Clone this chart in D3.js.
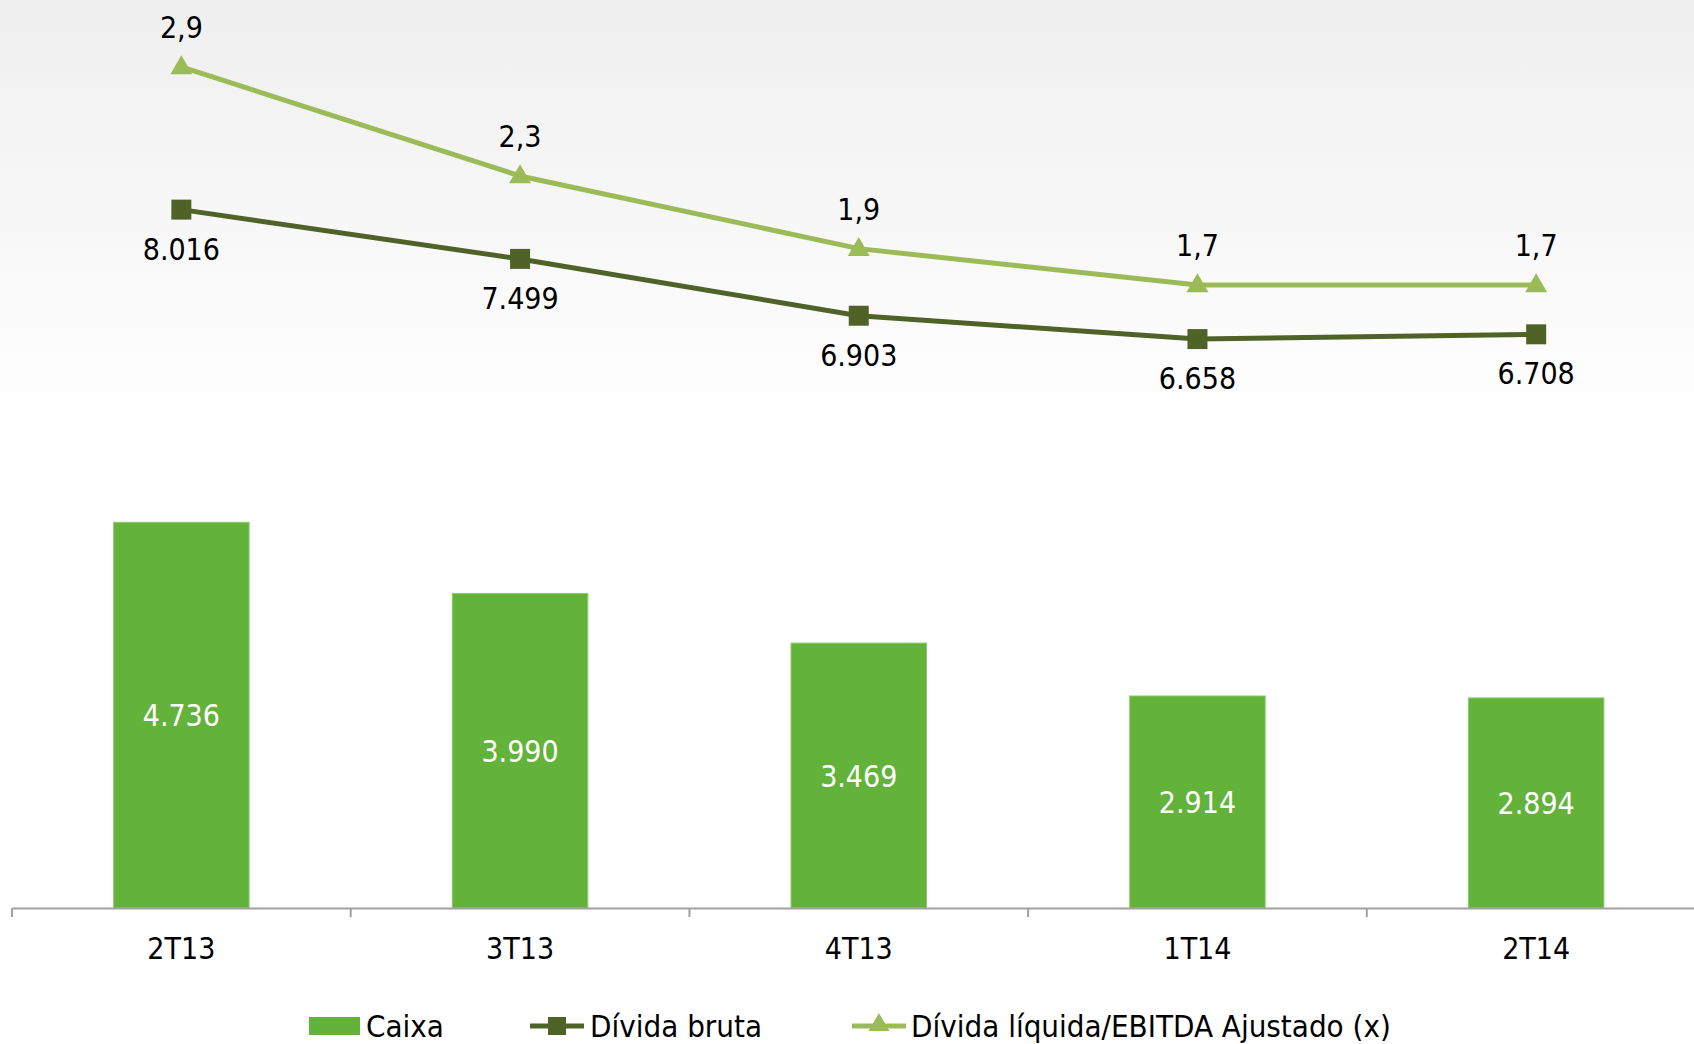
<!DOCTYPE html>
<html>
<head>
<meta charset="utf-8">
<script src="https://cdn.jsdelivr.net/npm/d3@7"></script>
<style>
  html, body { margin: 0; padding: 0; background: #fff; }
  svg { display: block; font-family: "DejaVu Sans Condensed", "DejaVu Sans", sans-serif; }
</style>
</head>
<body>
<svg id="chart"></svg>
<script>
// data
const categories = ["2T13", "3T13", "4T13", "1T14", "2T14"];
const caixa = [4736, 3990, 3469, 2914, 2894];
const dividaBruta = [8016, 7499, 6903, 6658, 6708];
const dividaEbitda = [2.9, 2.3, 1.9, 1.7, 1.7];
const legendNames = ["Caixa", "Dívida bruta", "Dívida líquida/EBITDA Ajustado (x)"];

const width = 1694, height = 1044;
const baseY = 908;

const svg = d3.select("#chart")
    .attr("width", width)
    .attr("height", height);

// soft grey background at the top
const defs = svg.append("defs");
const grad = defs.append("linearGradient")
    .attr("id", "bg")
    .attr("x1", 0).attr("y1", 0).attr("x2", 0).attr("y2", 1);
grad.append("stop").attr("offset", "0%").attr("stop-color", "#efefef");
grad.append("stop").attr("offset", "100%").attr("stop-color", "#ffffff");
svg.append("rect")
    .attr("width", width).attr("height", 430)
    .attr("fill", "url(#bg)");

const xOuter = d3.scaleBand()
    .domain(categories)
    .range([12, 1705.5])
    .padding(0);

const x = d3.scaleBand()
    .domain(categories)
    .range([12, 1705.5])
    .paddingInner(0.6)
    .paddingOuter(0.3);

// primary axis (bars and gross debt), secondary axis (ratio)
const y = d3.scaleLinear()
    .domain([690, 10215])
    .range([baseY, 0]);

const y2 = d3.scaleLinear()
    .domain([-1.729, 3.2685])
    .range([baseY, 0]);

const cx = d => xOuter(d) + xOuter.bandwidth() / 2;

// bars
svg.append("g")
    .selectAll("rect")
    .data(categories)
    .enter()
    .append("rect")
    .attr("x", d => x(d))
    .attr("width", x.bandwidth())
    .attr("y", (d, i) => y(caixa[i]))
    .attr("height", (d, i) => baseY - y(caixa[i]))
    .attr("fill", "#63b33a")
    .attr("stroke", "#8ccb6c")
    .attr("stroke-width", 1);

svg.append("g")
    .selectAll("text")
    .data(categories)
    .enter()
    .append("text")
    .attr("x", d => cx(d))
    .attr("y", (d, i) => (y(caixa[i]) + baseY) / 2 + 11)
    .attr("text-anchor", "middle")
    .attr("font-size", 30)
    .attr("fill", "#fff")
    .text((d, i) => d3.format(",")(caixa[i]).replace(/,/g, "."));

// axis
const axis = svg.append("g")
    .attr("transform", `translate(0,${baseY})`)
    .call(d3.axisBottom(xOuter).tickSize(0).tickSizeOuter(0).tickPadding(0));
axis.select(".domain").attr("stroke", "#a0a0a0").attr("stroke-width", 2);
axis.selectAll(".tick text")
    .attr("font-family", "DejaVu Sans Condensed, DejaVu Sans, sans-serif")
    .attr("font-size", 30)
    .attr("fill", "#000")
    .attr("dy", null)
    .attr("y", 51);

svg.append("g")
    .selectAll("line")
    .data(categories)
    .enter()
    .append("line")
    .attr("x1", d => xOuter(d)).attr("x2", d => xOuter(d))
    .attr("y1", baseY).attr("y2", baseY + 9)
    .attr("stroke", "#a0a0a0")
    .attr("stroke-width", 2);

// gross debt line
const lineBruta = d3.line()
    .x((d, i) => cx(categories[i]))
    .y(d => y(d));

svg.append("path")
    .datum(dividaBruta)
    .attr("d", lineBruta)
    .attr("fill", "none")
    .attr("stroke", "#4f6228")
    .attr("stroke-width", 5);

svg.append("g")
    .selectAll("path")
    .data(dividaBruta)
    .enter()
    .append("path")
    .attr("d", d3.symbol(d3.symbolSquare, 400))
    .attr("transform", (d, i) => `translate(${cx(categories[i])},${y(d)})`)
    .attr("fill", "#4f6228");

svg.append("g")
    .selectAll("text")
    .data(dividaBruta)
    .enter()
    .append("text")
    .attr("x", (d, i) => cx(categories[i]))
    .attr("y", d => y(d) + 50)
    .attr("text-anchor", "middle")
    .attr("font-size", 30)
    .attr("fill", "#000")
    .text(d => d3.format(",")(d).replace(/,/g, "."));

// net debt / EBITDA line
const lineRatio = d3.line()
    .x((d, i) => cx(categories[i]))
    .y(d => y2(d));

svg.append("path")
    .datum(dividaEbitda)
    .attr("d", lineRatio)
    .attr("fill", "none")
    .attr("stroke", "#9bbb59")
    .attr("stroke-width", 5);

svg.append("g")
    .selectAll("path")
    .data(dividaEbitda)
    .enter()
    .append("path")
    .attr("d", d3.symbol(d3.symbolTriangle, 210))
    .attr("transform", (d, i) => `translate(${cx(categories[i])},${y2(d) + 1})`)
    .attr("fill", "#9bbb59");

svg.append("g")
    .selectAll("text")
    .data(dividaEbitda)
    .enter()
    .append("text")
    .attr("x", (d, i) => cx(categories[i]))
    .attr("y", d => y2(d) - 29)
    .attr("text-anchor", "middle")
    .attr("font-size", 30)
    .attr("fill", "#000")
    .text(d => d3.format(".1f")(d).replace(".", ","));

// legend
const legendX = [309, 530, 852];
const legendY = 1026;
const lg = svg.append("g");

lg.append("rect")
    .attr("x", legendX[0]).attr("y", legendY - 9)
    .attr("width", 51).attr("height", 18)
    .attr("fill", "#63b33a");

lg.append("line")
    .attr("x1", legendX[1]).attr("x2", legendX[1] + 54)
    .attr("y1", legendY).attr("y2", legendY)
    .attr("stroke", "#4f6228").attr("stroke-width", 5);
lg.append("path")
    .attr("d", d3.symbol(d3.symbolSquare, 324))
    .attr("transform", `translate(${legendX[1] + 27},${legendY})`)
    .attr("fill", "#4f6228");

lg.append("line")
    .attr("x1", legendX[2]).attr("x2", legendX[2] + 54)
    .attr("y1", legendY).attr("y2", legendY)
    .attr("stroke", "#9bbb59").attr("stroke-width", 5);
lg.append("path")
    .attr("d", d3.symbol(d3.symbolTriangle, 190))
    .attr("transform", `translate(${legendX[2] + 27},${legendY - 1})`)
    .attr("fill", "#9bbb59");

const legendTextX = [366, 590, 911];
lg.selectAll("text")
    .data(legendNames)
    .enter()
    .append("text")
    .attr("x", (d, i) => legendTextX[i])
    .attr("y", legendY + 11)
    .attr("font-size", 31)
    .attr("fill", "#000")
    .text(d => d);
</script>
</body>
</html>
